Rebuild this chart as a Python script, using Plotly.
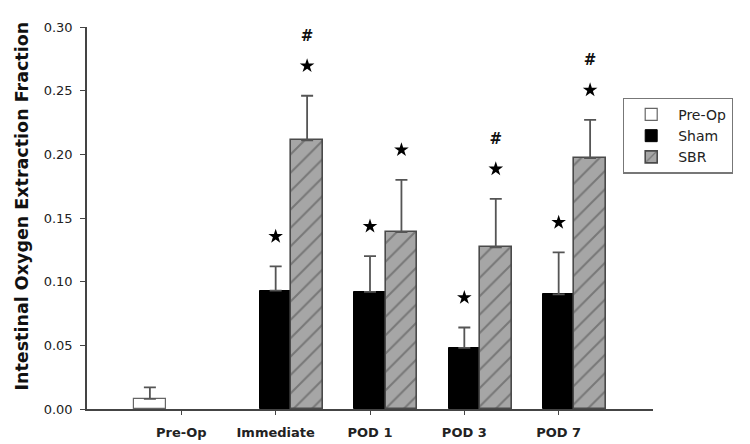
import plotly.graph_objects as go

categories = ["Pre-Op", "Immediate", "POD 1", "POD 3", "POD 7"]
preop_mean = [0.008]
preop_err = [0.009]
sham_mean = [0.093, 0.092, 0.048, 0.090]
sham_err = [0.019, 0.028, 0.016, 0.033]
sbr_mean = [0.211, 0.139, 0.127, 0.197]
sbr_err = [0.035, 0.041, 0.038, 0.030]
sham_star = [True, True, True, True]
sbr_star = [True, True, True, True]
sbr_hash = [True, False, True, True]
y_ticks = [0.00, 0.05, 0.10, 0.15, 0.20, 0.25, 0.30]
y_title = "Intestinal Oxygen Extraction Fraction"

FONT = "DejaVu Sans, Verdana, sans-serif"
idx = list(range(len(categories)))
post_idx = idx[1:]
slot = 1.0 / 3.0
star_gap = 0.0235
hash_gap = 0.0228

fig = go.Figure()
fig.add_trace(go.Bar(
    name="Pre-Op", x=[idx[0]], y=preop_mean,
    marker=dict(color="white", line=dict(color="#666666", width=1.2)),
    error_y=dict(type="data", array=preop_err, arrayminus=[0], symmetric=False,
                 color="#555555", thickness=1.8, width=6),
))
fig.add_trace(go.Bar(
    name="Sham", x=post_idx, y=sham_mean,
    marker=dict(color="black", line=dict(color="black", width=1)),
    error_y=dict(type="data", array=sham_err, arrayminus=[0] * 4, symmetric=False,
                 color="#555555", thickness=1.8, width=6),
))
fig.add_trace(go.Bar(
    name="SBR", x=post_idx, y=sbr_mean,
    marker=dict(color="#a6a6a6", line=dict(color="#4a4a4a", width=1.6),
                pattern=dict(shape="/", fgcolor="#4a4a4a", bgcolor="#a6a6a6",
                             size=13, solidity=0.16)),
    error_y=dict(type="data", array=sbr_err, arrayminus=[0] * 4, symmetric=False,
                 color="#555555", thickness=1.8, width=6),
))

# significance markers, positioned from the data
star_x, star_y = [], []
for i, m, e, s in zip(post_idx, sham_mean, sham_err, sham_star):
    if s:
        star_x.append(i)
        star_y.append(m + e + star_gap)
for i, m, e, s in zip(post_idx, sbr_mean, sbr_err, sbr_star):
    if s:
        star_x.append(i + slot)
        star_y.append(m + e + star_gap)
fig.add_trace(go.Scatter(
    x=star_x, y=star_y, mode="markers", showlegend=False, hoverinfo="skip",
    marker=dict(symbol="star", size=11, color="black", line=dict(width=0)),
))
hash_x, hash_y = [], []
for i, m, e, h in zip(post_idx, sbr_mean, sbr_err, sbr_hash):
    if h:
        hash_x.append(i + slot)
        hash_y.append(m + e + star_gap + hash_gap)
fig.add_trace(go.Scatter(
    x=hash_x, y=hash_y, mode="text", text=["#"] * len(hash_x),
    textposition="middle center", showlegend=False, hoverinfo="skip",
    textfont=dict(family=FONT, size=15, color="#111111", weight="bold"),
))

fig.update_layout(
    width=750, height=444,
    margin=dict(l=79, r=105, t=12, b=36),
    paper_bgcolor="white", plot_bgcolor="white",
    barmode="group", bargap=0, bargroupgap=0,
    font=dict(family=FONT, size=12, color="#222222"),
    showlegend=True,
    legend=dict(
        x=0.947, y=0.815, xanchor="left", yanchor="top",
        bordercolor="#777777", borderwidth=1.2, bgcolor="white",
        font=dict(family=FONT, size=14, color="#222222"),
        itemwidth=44, tracegroupgap=0,
    ),
    annotations=[dict(
        text=y_title, textangle=-90, showarrow=False,
        xref="paper", yref="paper", x=0, y=0.53,
        xanchor="center", yanchor="middle", xshift=-65,
        font=dict(family=FONT, size=17.5, color="#111111", weight="bold"),
    )],
)
fig.update_xaxes(
    range=[-1, 5], tickmode="array", tickvals=idx, ticktext=categories,
    showline=True, linecolor="#444444", linewidth=1.6,
    ticks="outside", ticklen=4, tickwidth=1.2, tickcolor="#444444",
    showgrid=False, zeroline=False,
    tickfont=dict(family=FONT, size=13, color="#222222", weight="bold"),
    ticklabelstandoff=7,
)
fig.update_yaxes(
    range=[0, 0.30], tickmode="array", tickvals=y_ticks,
    ticktext=[f"{v:.2f}" for v in y_ticks],
    showline=True, linecolor="#444444", linewidth=1.6,
    ticks="outside", ticklen=5, tickwidth=1.2, tickcolor="#444444",
    showgrid=False, zeroline=False,
    tickfont=dict(family=FONT, size=13, color="#222222"),
    ticklabelstandoff=5,
)

fig.write_html("out.html")
